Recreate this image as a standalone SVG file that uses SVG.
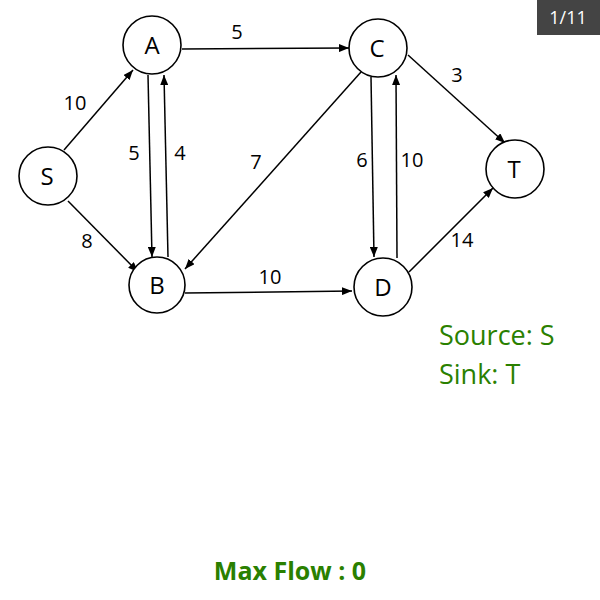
<svg xmlns="http://www.w3.org/2000/svg" width="600" height="600" viewBox="0 0 600 600">
<defs>
<marker id="ah" markerWidth="10" markerHeight="8" refX="10" refY="4" orient="auto" markerUnits="userSpaceOnUse">
<path d="M0,0 L10,4 L0,8 Z" fill="#000"/>
</marker>
</defs>
<style>
.node circle{fill:#fff;stroke:#000;stroke-width:1.6}
.node text{font-family:"Open Sans","Liberation Sans",sans-serif;font-size:24px;text-anchor:middle;fill:#000}
#edges line{stroke:#000;stroke-width:1.5;marker-end:url(#ah)}
.lbl{font-family:"Open Sans","Liberation Sans",sans-serif;font-size:20px;text-anchor:middle;fill:#000}
.info{font-family:"Open Sans","Liberation Sans",sans-serif;font-size:27px;fill:#2a8000}
</style>
<rect width="600" height="600" fill="#fff"/>
<g id="edges">
<line x1="64" y1="150" x2="133" y2="70"/>
<line x1="68" y1="201" x2="138" y2="272"/>
<line x1="148" y1="75" x2="152" y2="257"/>
<line x1="168" y1="257" x2="164" y2="75"/>
<line x1="182" y1="49" x2="349" y2="48"/>
<line x1="361" y1="72" x2="185" y2="269"/>
<line x1="185" y1="293" x2="352" y2="291"/>
<line x1="371" y1="77" x2="374" y2="257"/>
<line x1="397" y1="258" x2="396" y2="75"/>
<line x1="408" y1="55" x2="505" y2="143"/>
<line x1="409" y1="272" x2="493" y2="188"/>
</g>
<g id="labels">
<text class="lbl" x="237" y="39">5</text>
<text class="lbl" x="75" y="110">10</text>
<text class="lbl" x="134" y="160">5</text>
<text class="lbl" x="180" y="160">4</text>
<text class="lbl" x="256" y="169">7</text>
<text class="lbl" x="457" y="82">3</text>
<text class="lbl" x="362" y="167">6</text>
<text class="lbl" x="412" y="167">10</text>
<text class="lbl" x="462" y="247">14</text>
<text class="lbl" x="87" y="248">8</text>
<text class="lbl" x="270" y="284">10</text>
</g>
<g id="S" class="node"><circle cx="48" cy="176" r="29"/><text x="47" y="185">S</text></g>
<g id="A" class="node"><circle cx="152" cy="45" r="29"/><text x="152" y="54">A</text></g>
<g id="B" class="node"><circle cx="157" cy="285" r="28"/><text x="157" y="294">B</text></g>
<g id="C" class="node"><circle cx="378" cy="48" r="29"/><text x="377" y="57">C</text></g>
<g id="D" class="node"><circle cx="383" cy="287" r="29"/><text x="383" y="296">D</text></g>
<g id="T" class="node"><circle cx="515" cy="169" r="29"/><text x="514" y="178">T</text></g>
<g id="badge">
<rect x="537" y="0" width="63" height="35" fill="#444"/>
<text x="568" y="24" font-family="Open Sans, Liberation Sans, sans-serif" font-size="18" fill="#fff" text-anchor="middle">1/11</text>
</g>
<text class="info" x="439" y="345">Source: S</text>
<text class="info" x="439" y="384">Sink: T</text>
<text x="290" y="580" font-family="Open Sans, Liberation Sans, sans-serif" font-size="25" font-weight="bold" fill="#2a8000" text-anchor="middle">Max Flow : 0</text>
</svg>
